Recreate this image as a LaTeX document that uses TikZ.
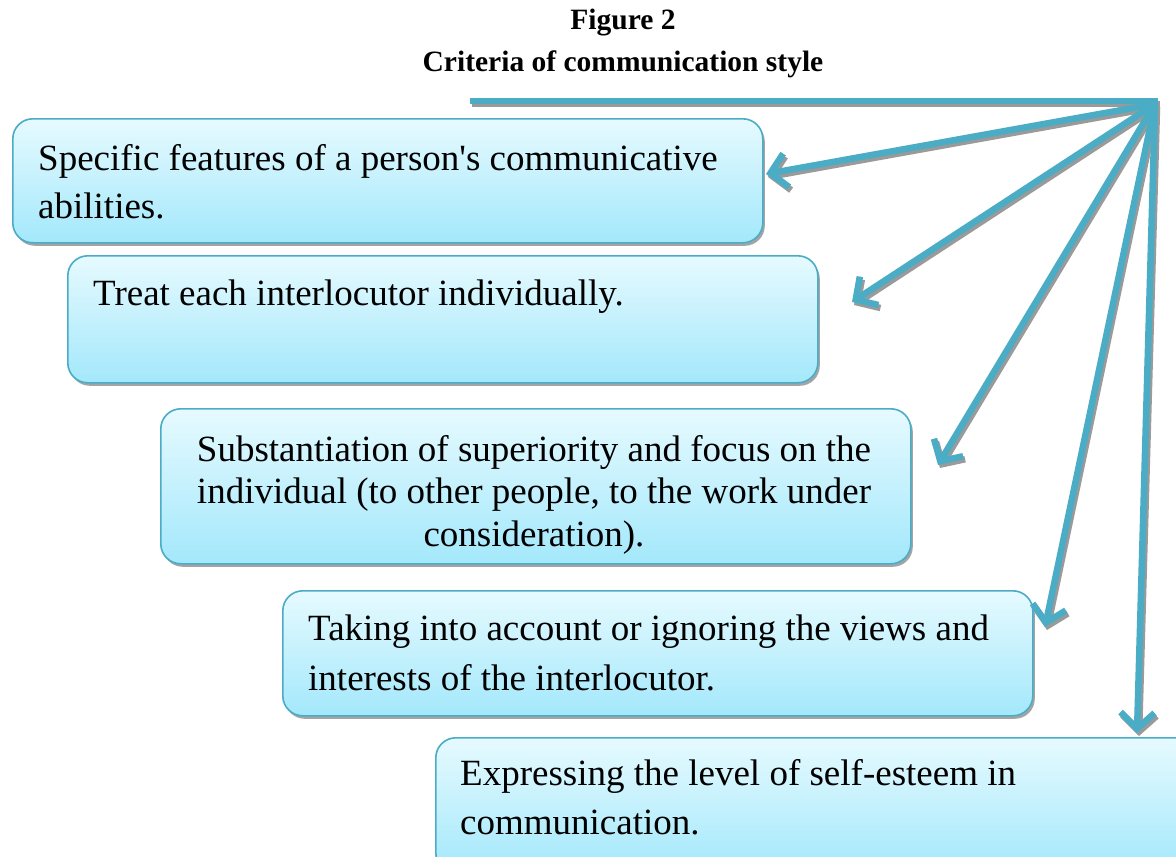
\documentclass[tikz,border=0pt]{standalone}
\usepackage{fontspec}
\setmainfont{Liberation Serif}
\usetikzlibrary{arrows.meta,shadows}
\definecolor{acc}{HTML}{4BACC6}
\definecolor{topc}{HTML}{E6FAFF}
\definecolor{botc}{HTML}{A3E8FB}
\definecolor{shd}{HTML}{9A9A9A}
\newcommand{\fl}{\rule{0pt}{28pt}}
\begin{document}
\begin{tikzpicture}[x=1pt,y=-1pt,
  box/.style={draw=acc, line width=1.6pt, rounded corners=20pt,
    top color=topc, bottom color=botc,
    drop shadow={shadow xshift=2pt, shadow yshift=-3pt, fill=shd, opacity=0.9},
    anchor=north west, inner sep=0pt},
  txt/.style={font=\fontsize{37}{48}\selectfont, inner sep=0pt, align=left, anchor=north west},
  ttl/.style={font=\fontsize{29.5}{34}\bfseries\selectfont, inner sep=0pt, anchor=base},
  arr/.style={draw=acc, line width=6.5pt, -{Straight Barb[length=16pt, width=34pt]}},
  arrs/.style={draw=shd, line width=6.5pt, -{Straight Barb[length=16pt, width=34pt]}},
  hline/.style={draw=acc, line width=6pt},
  hlines/.style={draw=shd, line width=6pt}]
\useasboundingbox (0,0) rectangle (1176,857);
\clip (0,0) rectangle (1176,857);

% titles
\node[ttl] (fig) at (623,29) {Figure 2};
\node[ttl] (crit) at (623,71) {Criteria of communication style};

% boxes
\node[box, minimum width=750pt, minimum height=124pt] (b1) at (12,118) {};
\node[box, minimum width=750pt, minimum height=127pt] (b2) at (67,255) {};
\node[box, minimum width=750pt, minimum height=155pt] (b3) at (160,408) {};
\node[box, minimum width=750pt, minimum height=125pt] (b4) at (282,590) {};
\node[box, minimum width=770pt, minimum height=135pt] (b5) at (435,737) {};

% texts
\node[txt] (t1) at (38,142) {\fl Specific features of a person\textquotesingle s communicative\\abilities.};
\node[txt] (t2) at (93,277) {\fl Treat each interlocutor individually.};
\node[txt, align=center, anchor=north, font=\fontsize{37}{42.5}\selectfont] (t3) at (534,433) {\fl Substantiation of superiority and focus on the\\individual (to other people, to the work under\\consideration).};
\node[txt, font=\fontsize{37}{50}\selectfont] (t4) at (308,612) {\fl Taking into account or ignoring the views and\\interests of the interlocutor.};
\node[txt, font=\fontsize{37}{49}\selectfont] (t5) at (460,757) {\fl Expressing the level of self-esteem in\\communication.};

% connectors
\coordinate (hub) at (1155,104);
\coordinate (hl) at (470,101);
\coordinate (hr) at (1158,101);
\coordinate (e1) at (766,174);
\coordinate (e2) at (852,302);
\coordinate (e3) at (938,465);
\coordinate (e4) at (1045,627);
\coordinate (e5) at (1137,733);

\begin{scope}[transform canvas={shift={(2pt,-3pt)}}]
  \draw[hlines] (hl) -- (hr);
  \foreach \e in {e1,e2,e3,e4,e5} \draw[arrs] (hub) -- (\e);
\end{scope}
\draw[hline] (hl) -- (hr);
\foreach \e in {e1,e2,e3,e4,e5} \draw[arr] (hub) -- (\e);
\end{tikzpicture}
\end{document}
